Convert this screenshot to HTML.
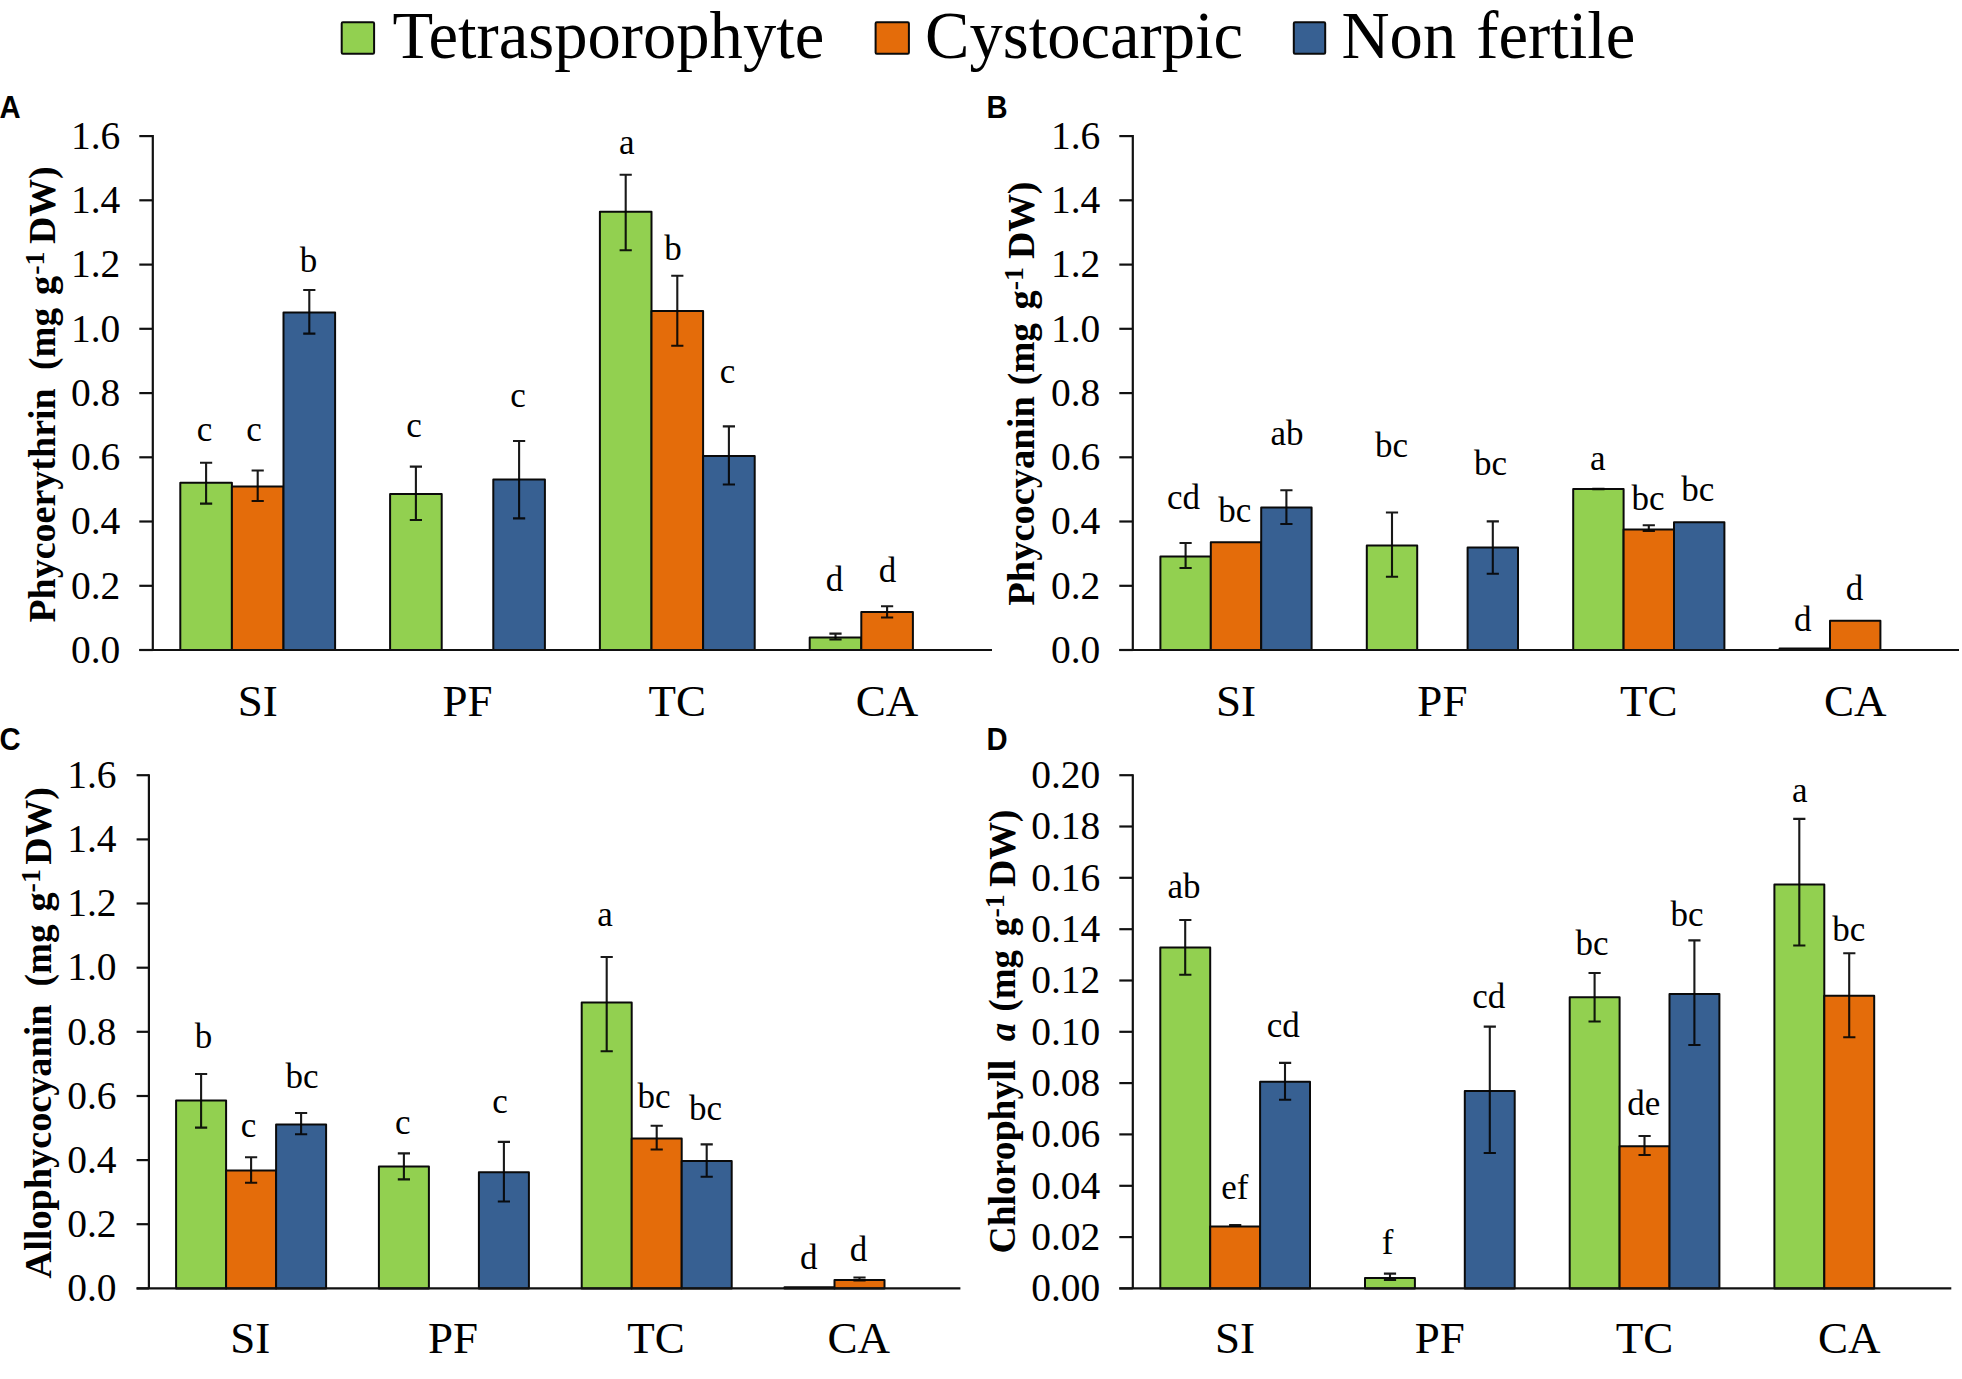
<!DOCTYPE html>
<html><head><meta charset="utf-8"><title>Figure</title>
<style>
html,body{margin:0;padding:0;background:#fff}
svg{display:block}
text{font-family:"Liberation Serif","Times New Roman",serif;fill:#000}
.pl{font-family:"Liberation Sans",Arial,sans-serif;font-weight:bold;font-size:30.8px}
.yl{font-weight:bold;font-size:38.5px}
.tk{font-size:39.5px}
.ct{font-size:45px}
.lt{font-size:35px}
.lg{font-size:66.6px}
.ax{stroke:#111;stroke-width:2.2;fill:none}
.br{stroke:#0a0a0a;stroke-width:2;stroke-linejoin:round}
.er{stroke:#050505;stroke-width:2.1;fill:none;stroke-opacity:.92}
</style></head><body>
<svg width="1962" height="1379" viewBox="0 0 1962 1379">
<rect width="1962" height="1379" fill="#fff"/>
<text transform="translate(-0.6,117.6) scale(.95,1)" class="pl">A</text>
<text transform="translate(54.9,622.6) rotate(-90) scale(0.987,1)" class="yl">Phycoerythrin</text>
<text transform="translate(54.9,369.9) rotate(-90) scale(0.965,1)" class="yl">(mg</text>
<text transform="translate(54.9,294.9) rotate(-90) scale(1,1)" class="yl">g</text>
<text transform="translate(43.8,274.7) rotate(-90) scale(1,1)" class="yl" style="font-size:28px">-1</text>
<text transform="translate(54.9,244) rotate(-90) scale(0.98,1)" class="yl">DW)</text>
<line x1="139.3" y1="650.0" x2="152.8" y2="650.0" class="ax"/>
<text x="120.3" y="662.7" class="tk" text-anchor="end">0.0</text>
<line x1="139.3" y1="585.8" x2="152.8" y2="585.8" class="ax"/>
<text x="120.3" y="598.5" class="tk" text-anchor="end">0.2</text>
<line x1="139.3" y1="521.5" x2="152.8" y2="521.5" class="ax"/>
<text x="120.3" y="534.2" class="tk" text-anchor="end">0.4</text>
<line x1="139.3" y1="457.3" x2="152.8" y2="457.3" class="ax"/>
<text x="120.3" y="470.0" class="tk" text-anchor="end">0.6</text>
<line x1="139.3" y1="393.1" x2="152.8" y2="393.1" class="ax"/>
<text x="120.3" y="405.8" class="tk" text-anchor="end">0.8</text>
<line x1="139.3" y1="328.8" x2="152.8" y2="328.8" class="ax"/>
<text x="120.3" y="341.5" class="tk" text-anchor="end">1.0</text>
<line x1="139.3" y1="264.6" x2="152.8" y2="264.6" class="ax"/>
<text x="120.3" y="277.3" class="tk" text-anchor="end">1.2</text>
<line x1="139.3" y1="200.3" x2="152.8" y2="200.3" class="ax"/>
<text x="120.3" y="213.0" class="tk" text-anchor="end">1.4</text>
<line x1="139.3" y1="136.1" x2="152.8" y2="136.1" class="ax"/>
<text x="120.3" y="148.8" class="tk" text-anchor="end">1.6</text>
<rect x="180.3" y="482.7" width="51.6" height="167.3" fill="#92D050" class="br"/>
<path d="M206.1 462.8V503.6M200.0 462.8h12.2M200.0 503.6h12.2" class="er"/>
<text x="204.6" y="441.4" class="lt" text-anchor="middle">c</text>
<rect x="231.9" y="486.5" width="51.6" height="163.5" fill="#E46C0A" class="br"/>
<path d="M257.7 470.5V501.0M251.6 470.5h12.2M251.6 501.0h12.2" class="er"/>
<text x="254.0" y="441.4" class="lt" text-anchor="middle">c</text>
<rect x="283.5" y="312.4" width="51.6" height="337.6" fill="#376092" class="br"/>
<path d="M309.3 290.0V333.6M303.2 290.0h12.2M303.2 333.6h12.2" class="er"/>
<text x="308.4" y="272.0" class="lt" text-anchor="middle">b</text>
<rect x="390.1" y="494.0" width="51.6" height="156.0" fill="#92D050" class="br"/>
<path d="M415.9 466.6V520.0M409.8 466.6h12.2M409.8 520.0h12.2" class="er"/>
<text x="414.0" y="437.0" class="lt" text-anchor="middle">c</text>
<rect x="493.3" y="479.4" width="51.6" height="170.6" fill="#376092" class="br"/>
<path d="M519.1 441.0V518.4M513.0 441.0h12.2M513.0 518.4h12.2" class="er"/>
<text x="518.0" y="407.2" class="lt" text-anchor="middle">c</text>
<rect x="599.9" y="211.8" width="51.6" height="438.2" fill="#92D050" class="br"/>
<path d="M625.7 174.8V250.2M619.6 174.8h12.2M619.6 250.2h12.2" class="er"/>
<text x="626.7" y="154.3" class="lt" text-anchor="middle">a</text>
<rect x="651.5" y="311.0" width="51.6" height="339.0" fill="#E46C0A" class="br"/>
<path d="M677.3 275.7V345.8M671.2 275.7h12.2M671.2 345.8h12.2" class="er"/>
<text x="673.0" y="260.1" class="lt" text-anchor="middle">b</text>
<rect x="703.1" y="456.0" width="51.6" height="194.0" fill="#376092" class="br"/>
<path d="M728.9 426.4V484.5M722.8 426.4h12.2M722.8 484.5h12.2" class="er"/>
<text x="727.6" y="382.9" class="lt" text-anchor="middle">c</text>
<rect x="809.7" y="637.4" width="51.6" height="12.6" fill="#92D050" class="br"/>
<path d="M835.5 633.6V639.5M829.4 633.6h12.2M829.4 639.5h12.2" class="er"/>
<text x="834.6" y="590.6" class="lt" text-anchor="middle">d</text>
<rect x="861.3" y="612.0" width="51.6" height="38.0" fill="#E46C0A" class="br"/>
<path d="M887.1 606.3V617.5M881.0 606.3h12.2M881.0 617.5h12.2" class="er"/>
<text x="887.4" y="581.7" class="lt" text-anchor="middle">d</text>
<path d="M152.8 135.1V650M139.3 650H992" class="ax"/>
<text x="257.7" y="715.9" class="ct" text-anchor="middle">SI</text>
<text x="467.5" y="715.9" class="ct" text-anchor="middle">PF</text>
<text x="677.3" y="715.9" class="ct" text-anchor="middle">TC</text>
<text x="887.1" y="715.9" class="ct" text-anchor="middle">CA</text>
<text transform="translate(986.6,117.6) scale(.95,1)" class="pl">B</text>
<text transform="translate(1033.9,605.8) rotate(-90) scale(1,1)" class="yl">Phycocyanin</text>
<text transform="translate(1033.9,385.2) rotate(-90) scale(0.97,1)" class="yl">(mg</text>
<text transform="translate(1033.9,309.5) rotate(-90) scale(1,1)" class="yl">g</text>
<text transform="translate(1022.8000000000001,290.3) rotate(-90) scale(1,1)" class="yl" style="font-size:28px">-1</text>
<text transform="translate(1033.9,259.1) rotate(-90) scale(0.98,1)" class="yl">DW)</text>
<line x1="1119.3" y1="650.0" x2="1132.8" y2="650.0" class="ax"/>
<text x="1100.3" y="662.7" class="tk" text-anchor="end">0.0</text>
<line x1="1119.3" y1="585.8" x2="1132.8" y2="585.8" class="ax"/>
<text x="1100.3" y="598.5" class="tk" text-anchor="end">0.2</text>
<line x1="1119.3" y1="521.5" x2="1132.8" y2="521.5" class="ax"/>
<text x="1100.3" y="534.2" class="tk" text-anchor="end">0.4</text>
<line x1="1119.3" y1="457.3" x2="1132.8" y2="457.3" class="ax"/>
<text x="1100.3" y="470.0" class="tk" text-anchor="end">0.6</text>
<line x1="1119.3" y1="393.1" x2="1132.8" y2="393.1" class="ax"/>
<text x="1100.3" y="405.8" class="tk" text-anchor="end">0.8</text>
<line x1="1119.3" y1="328.8" x2="1132.8" y2="328.8" class="ax"/>
<text x="1100.3" y="341.5" class="tk" text-anchor="end">1.0</text>
<line x1="1119.3" y1="264.6" x2="1132.8" y2="264.6" class="ax"/>
<text x="1100.3" y="277.3" class="tk" text-anchor="end">1.2</text>
<line x1="1119.3" y1="200.3" x2="1132.8" y2="200.3" class="ax"/>
<text x="1100.3" y="213.0" class="tk" text-anchor="end">1.4</text>
<line x1="1119.3" y1="136.1" x2="1132.8" y2="136.1" class="ax"/>
<text x="1100.3" y="148.8" class="tk" text-anchor="end">1.6</text>
<rect x="1160.4" y="556.6" width="50.4" height="93.4" fill="#92D050" class="br"/>
<path d="M1185.6 543.0V568.0M1179.5 543.0h12.2M1179.5 568.0h12.2" class="er"/>
<text x="1183.4" y="509.1" class="lt" text-anchor="middle">cd</text>
<rect x="1210.8" y="542.3" width="50.4" height="107.7" fill="#E46C0A" class="br"/>
<text x="1234.8" y="521.8" class="lt" text-anchor="middle">bc</text>
<rect x="1261.2" y="507.4" width="50.4" height="142.6" fill="#376092" class="br"/>
<path d="M1286.4 490.3V524.0M1280.3 490.3h12.2M1280.3 524.0h12.2" class="er"/>
<text x="1287.0" y="445.4" class="lt" text-anchor="middle">ab</text>
<rect x="1366.8" y="545.6" width="50.4" height="104.4" fill="#92D050" class="br"/>
<path d="M1392.0 512.5V576.7M1385.9 512.5h12.2M1385.9 576.7h12.2" class="er"/>
<text x="1391.6" y="457.4" class="lt" text-anchor="middle">bc</text>
<rect x="1467.6" y="547.4" width="50.4" height="102.6" fill="#376092" class="br"/>
<path d="M1492.8 521.4V573.7M1486.7 521.4h12.2M1486.7 573.7h12.2" class="er"/>
<text x="1490.5" y="475.2" class="lt" text-anchor="middle">bc</text>
<rect x="1573.2" y="489.0" width="50.4" height="161.0" fill="#92D050" class="br"/>
<path d="M1598.4 488.7V489.3M1592.3 488.7h12.2M1592.3 489.3h12.2" class="er"/>
<text x="1597.8" y="469.6" class="lt" text-anchor="middle">a</text>
<rect x="1623.6" y="529.6" width="50.4" height="120.4" fill="#E46C0A" class="br"/>
<path d="M1648.8 525.3V531.0M1642.7 525.3h12.2M1642.7 531.0h12.2" class="er"/>
<text x="1648.0" y="509.9" class="lt" text-anchor="middle">bc</text>
<rect x="1674.0" y="522.2" width="50.4" height="127.8" fill="#376092" class="br"/>
<text x="1697.7" y="501.4" class="lt" text-anchor="middle">bc</text>
<rect x="1779.6" y="648.5" width="50.4" height="1.5" fill="#92D050" class="br"/>
<text x="1802.7" y="630.7" class="lt" text-anchor="middle">d</text>
<rect x="1830.0" y="620.8" width="50.4" height="29.2" fill="#E46C0A" class="br"/>
<text x="1854.5" y="599.6" class="lt" text-anchor="middle">d</text>
<path d="M1132.8 135.1V650M1119.3 650H1959" class="ax"/>
<text x="1236.0" y="715.9" class="ct" text-anchor="middle">SI</text>
<text x="1442.4" y="715.9" class="ct" text-anchor="middle">PF</text>
<text x="1648.8" y="715.9" class="ct" text-anchor="middle">TC</text>
<text x="1855.2" y="715.9" class="ct" text-anchor="middle">CA</text>
<text transform="translate(-0.6,750.0) scale(.95,1)" class="pl">C</text>
<text transform="translate(51.3,1278.4) rotate(-90) scale(0.993,1)" class="yl">Allophycocyanin</text>
<text transform="translate(51.3,986.4) rotate(-90) scale(0.965,1)" class="yl">(mg</text>
<text transform="translate(51.3,911.4) rotate(-90) scale(1,1)" class="yl">g</text>
<text transform="translate(40.199999999999996,892.4) rotate(-90) scale(1,1)" class="yl" style="font-size:28px">-1</text>
<text transform="translate(51.3,864.8) rotate(-90) scale(0.98,1)" class="yl">DW)</text>
<line x1="136.6" y1="1288.4" x2="148.9" y2="1288.4" class="ax"/>
<text x="116.5" y="1301.1" class="tk" text-anchor="end">0.0</text>
<line x1="136.6" y1="1224.2" x2="148.9" y2="1224.2" class="ax"/>
<text x="116.5" y="1237.0" class="tk" text-anchor="end">0.2</text>
<line x1="136.6" y1="1160.1" x2="148.9" y2="1160.1" class="ax"/>
<text x="116.5" y="1172.8" class="tk" text-anchor="end">0.4</text>
<line x1="136.6" y1="1096.0" x2="148.9" y2="1096.0" class="ax"/>
<text x="116.5" y="1108.7" class="tk" text-anchor="end">0.6</text>
<line x1="136.6" y1="1031.8" x2="148.9" y2="1031.8" class="ax"/>
<text x="116.5" y="1044.5" class="tk" text-anchor="end">0.8</text>
<line x1="136.6" y1="967.7" x2="148.9" y2="967.7" class="ax"/>
<text x="116.5" y="980.4" class="tk" text-anchor="end">1.0</text>
<line x1="136.6" y1="903.5" x2="148.9" y2="903.5" class="ax"/>
<text x="116.5" y="916.2" class="tk" text-anchor="end">1.2</text>
<line x1="136.6" y1="839.4" x2="148.9" y2="839.4" class="ax"/>
<text x="116.5" y="852.1" class="tk" text-anchor="end">1.4</text>
<line x1="136.6" y1="775.2" x2="148.9" y2="775.2" class="ax"/>
<text x="116.5" y="787.9" class="tk" text-anchor="end">1.6</text>
<rect x="176.1" y="1100.4" width="50.0" height="188.0" fill="#92D050" class="br"/>
<path d="M201.1 1074.0V1127.6M195.0 1074.0h12.2M195.0 1127.6h12.2" class="er"/>
<text x="203.4" y="1048.2" class="lt" text-anchor="middle">b</text>
<rect x="226.1" y="1170.4" width="50.0" height="118.0" fill="#E46C0A" class="br"/>
<path d="M251.1 1157.2V1182.7M245.0 1157.2h12.2M245.0 1182.7h12.2" class="er"/>
<text x="248.5" y="1137.4" class="lt" text-anchor="middle">c</text>
<rect x="276.1" y="1124.6" width="50.0" height="163.8" fill="#376092" class="br"/>
<path d="M301.1 1113.0V1134.2M295.0 1113.0h12.2M295.0 1134.2h12.2" class="er"/>
<text x="302.0" y="1088.4" class="lt" text-anchor="middle">bc</text>
<rect x="378.9" y="1166.6" width="50.0" height="121.8" fill="#92D050" class="br"/>
<path d="M403.9 1153.4V1179.4M397.8 1153.4h12.2M397.8 1179.4h12.2" class="er"/>
<text x="402.7" y="1133.6" class="lt" text-anchor="middle">c</text>
<rect x="478.9" y="1172.2" width="50.0" height="116.2" fill="#376092" class="br"/>
<path d="M503.9 1141.9V1201.5M497.8 1141.9h12.2M497.8 1201.5h12.2" class="er"/>
<text x="499.9" y="1113.2" class="lt" text-anchor="middle">c</text>
<rect x="581.7" y="1002.4" width="50.0" height="286.0" fill="#92D050" class="br"/>
<path d="M606.7 957.0V1051.3M600.6 957.0h12.2M600.6 1051.3h12.2" class="er"/>
<text x="604.9" y="926.0" class="lt" text-anchor="middle">a</text>
<rect x="631.7" y="1138.6" width="50.0" height="149.8" fill="#E46C0A" class="br"/>
<path d="M656.7 1125.8V1149.5M650.6 1125.8h12.2M650.6 1149.5h12.2" class="er"/>
<text x="654.0" y="1107.6" class="lt" text-anchor="middle">bc</text>
<rect x="681.7" y="1161.0" width="50.0" height="127.4" fill="#376092" class="br"/>
<path d="M706.7 1144.4V1176.8M700.6 1144.4h12.2M700.6 1176.8h12.2" class="er"/>
<text x="705.5" y="1119.6" class="lt" text-anchor="middle">bc</text>
<rect x="784.5" y="1287.2" width="50.0" height="1.2" fill="#92D050" class="br"/>
<text x="808.7" y="1268.7" class="lt" text-anchor="middle">d</text>
<rect x="834.5" y="1280.0" width="50.0" height="8.4" fill="#E46C0A" class="br"/>
<path d="M859.5 1277.5V1280.5M853.4 1277.5h12.2M853.4 1280.5h12.2" class="er"/>
<text x="858.4" y="1261.0" class="lt" text-anchor="middle">d</text>
<path d="M148.9 774.2V1288.4M136.6 1288.4H960.4" class="ax"/>
<text x="250.3" y="1353" class="ct" text-anchor="middle">SI</text>
<text x="453.1" y="1353" class="ct" text-anchor="middle">PF</text>
<text x="655.9" y="1353" class="ct" text-anchor="middle">TC</text>
<text x="858.7" y="1353" class="ct" text-anchor="middle">CA</text>
<text transform="translate(986.6,750.0) scale(.95,1)" class="pl">D</text>
<text transform="translate(1014.9,1253.5) rotate(-90) scale(0.977,1)" class="yl">Chlorophyll</text>
<text transform="translate(1014.9,1041.3) rotate(-90) scale(0.955,1)" class="yl" font-style="italic">a</text>
<text transform="translate(1014.9,1011.5) rotate(-90) scale(0.96,1)" class="yl">(mg</text>
<text transform="translate(1014.9,936.3) rotate(-90) scale(0.95,1)" class="yl">g</text>
<text transform="translate(1003.8,917.5) rotate(-90) scale(1,1)" class="yl" style="font-size:28px">-1</text>
<text transform="translate(1014.9,887.1) rotate(-90) scale(0.98,1)" class="yl">DW)</text>
<line x1="1119.3" y1="1288.4" x2="1132.8" y2="1288.4" class="ax"/>
<text x="1100.3" y="1301.1" class="tk" text-anchor="end">0.00</text>
<line x1="1119.3" y1="1237.1" x2="1132.8" y2="1237.1" class="ax"/>
<text x="1100.3" y="1249.8" class="tk" text-anchor="end">0.02</text>
<line x1="1119.3" y1="1185.8" x2="1132.8" y2="1185.8" class="ax"/>
<text x="1100.3" y="1198.5" class="tk" text-anchor="end">0.04</text>
<line x1="1119.3" y1="1134.4" x2="1132.8" y2="1134.4" class="ax"/>
<text x="1100.3" y="1147.1" class="tk" text-anchor="end">0.06</text>
<line x1="1119.3" y1="1083.1" x2="1132.8" y2="1083.1" class="ax"/>
<text x="1100.3" y="1095.8" class="tk" text-anchor="end">0.08</text>
<line x1="1119.3" y1="1031.8" x2="1132.8" y2="1031.8" class="ax"/>
<text x="1100.3" y="1044.5" class="tk" text-anchor="end">0.10</text>
<line x1="1119.3" y1="980.5" x2="1132.8" y2="980.5" class="ax"/>
<text x="1100.3" y="993.2" class="tk" text-anchor="end">0.12</text>
<line x1="1119.3" y1="929.2" x2="1132.8" y2="929.2" class="ax"/>
<text x="1100.3" y="941.9" class="tk" text-anchor="end">0.14</text>
<line x1="1119.3" y1="877.8" x2="1132.8" y2="877.8" class="ax"/>
<text x="1100.3" y="890.5" class="tk" text-anchor="end">0.16</text>
<line x1="1119.3" y1="826.5" x2="1132.8" y2="826.5" class="ax"/>
<text x="1100.3" y="839.2" class="tk" text-anchor="end">0.18</text>
<line x1="1119.3" y1="775.2" x2="1132.8" y2="775.2" class="ax"/>
<text x="1100.3" y="787.9" class="tk" text-anchor="end">0.20</text>
<rect x="1160.3" y="947.6" width="49.9" height="340.8" fill="#92D050" class="br"/>
<path d="M1185.2 920.0V974.8M1179.2 920.0h12.2M1179.2 974.8h12.2" class="er"/>
<text x="1183.9" y="897.8" class="lt" text-anchor="middle">ab</text>
<rect x="1210.2" y="1226.5" width="49.9" height="61.9" fill="#E46C0A" class="br"/>
<path d="M1235.2 1225.0V1226.0M1229.1 1225.0h12.2M1229.1 1226.0h12.2" class="er"/>
<text x="1234.8" y="1198.6" class="lt" text-anchor="middle">ef</text>
<rect x="1260.1" y="1081.8" width="49.9" height="206.6" fill="#376092" class="br"/>
<path d="M1285.0 1062.9V1099.8M1279.0 1062.9h12.2M1279.0 1099.8h12.2" class="er"/>
<text x="1283.3" y="1036.9" class="lt" text-anchor="middle">cd</text>
<rect x="1365.0" y="1278.0" width="49.9" height="10.4" fill="#92D050" class="br"/>
<path d="M1390.0 1273.6V1280.0M1383.9 1273.6h12.2M1383.9 1280.0h12.2" class="er"/>
<text x="1387.7" y="1254.2" class="lt" text-anchor="middle">f</text>
<rect x="1464.8" y="1091.0" width="49.9" height="197.4" fill="#376092" class="br"/>
<path d="M1489.8 1026.6V1153.0M1483.7 1026.6h12.2M1483.7 1153.0h12.2" class="er"/>
<text x="1488.8" y="1007.6" class="lt" text-anchor="middle">cd</text>
<rect x="1569.7" y="997.3" width="49.9" height="291.1" fill="#92D050" class="br"/>
<path d="M1594.6 973.0V1021.5M1588.5 973.0h12.2M1588.5 1021.5h12.2" class="er"/>
<text x="1592.0" y="954.6" class="lt" text-anchor="middle">bc</text>
<rect x="1619.6" y="1146.2" width="49.9" height="142.2" fill="#E46C0A" class="br"/>
<path d="M1644.5 1136.0V1155.0M1638.5 1136.0h12.2M1638.5 1155.0h12.2" class="er"/>
<text x="1643.7" y="1115.3" class="lt" text-anchor="middle">de</text>
<rect x="1669.5" y="994.0" width="49.9" height="294.4" fill="#376092" class="br"/>
<path d="M1694.4 940.4V1045.0M1688.3 940.4h12.2M1688.3 1045.0h12.2" class="er"/>
<text x="1687.0" y="926.4" class="lt" text-anchor="middle">bc</text>
<rect x="1774.4" y="884.4" width="49.9" height="404.0" fill="#92D050" class="br"/>
<path d="M1799.3 818.9V945.5M1793.2 818.9h12.2M1793.2 945.5h12.2" class="er"/>
<text x="1799.7" y="802.4" class="lt" text-anchor="middle">a</text>
<rect x="1824.3" y="995.7" width="49.9" height="292.7" fill="#E46C0A" class="br"/>
<path d="M1849.2 953.2V1037.3M1843.2 953.2h12.2M1843.2 1037.3h12.2" class="er"/>
<text x="1848.8" y="941.1" class="lt" text-anchor="middle">bc</text>
<path d="M1132.8 774.2V1288.4M1119.3 1288.4H1951.3" class="ax"/>
<text x="1235.1" y="1353" class="ct" text-anchor="middle">SI</text>
<text x="1439.8" y="1353" class="ct" text-anchor="middle">PF</text>
<text x="1644.5" y="1353" class="ct" text-anchor="middle">TC</text>
<text x="1849.2" y="1353" class="ct" text-anchor="middle">CA</text>
<rect x="341.7" y="22.3" width="32.4" height="31.4" rx="1.2" fill="#92D050" class="br"/>
<text x="392.5" y="57.6" class="lg">Tetrasporophyte</text>
<rect x="875.6" y="22.3" width="33.3" height="31.4" rx="1.2" fill="#E46C0A" class="br"/>
<text x="925" y="57.6" class="lg">Cystocarpic</text>
<rect x="1293.8" y="22.3" width="31.4" height="31.4" rx="1.2" fill="#376092" class="br"/>
<text x="1341.5" y="57.6" class="lg">Non <tspan dx="3.5">fertile</tspan></text>
</svg>
</body></html>
